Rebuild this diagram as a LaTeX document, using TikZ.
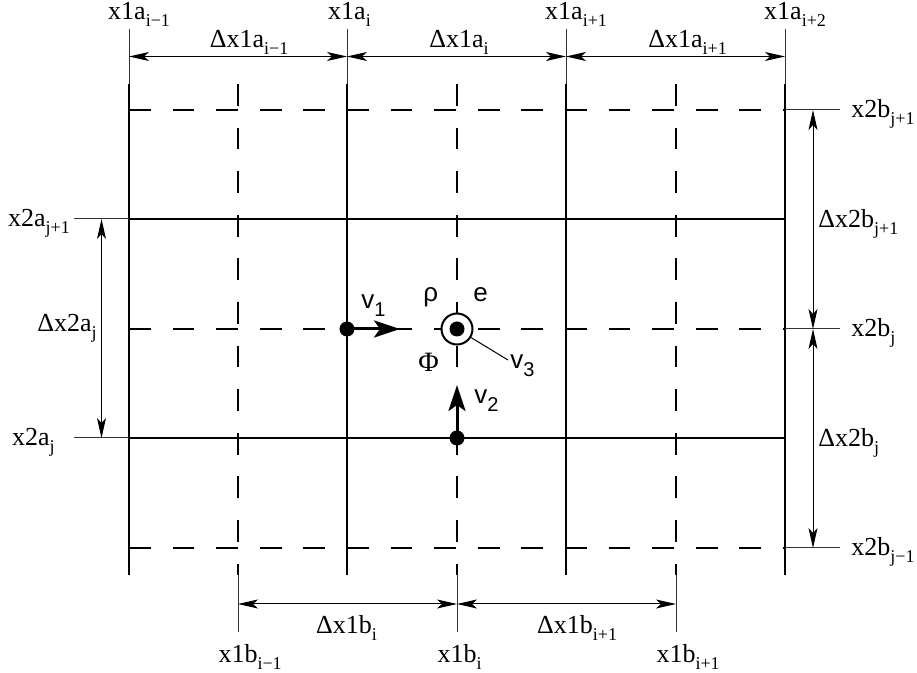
\documentclass[tikz,border=0pt]{standalone}
\usepackage{fontspec}
\setmainfont{Liberation Serif}
\newfontfamily\symfont{Liberation Sans}
\usetikzlibrary{arrows.meta,calc,positioning}

\newcommand{\ix}[1]{\raisebox{-3.2pt}{\fontsize{9}{10}\selectfont #1}}
\newcommand{\rix}[1]{\rlap{\ix{#1}}}
\newcommand{\vix}[1]{\raisebox{-3.6pt}{\fontsize{10}{11}\selectfont #1}}

\begin{document}
\begin{tikzpicture}[
  x=0.5pt, y=-0.5pt,
  font=\fontsize{13}{15}\selectfont,
  gridline/.style={line width=1pt, black},
  halfline/.style={gridline, dash pattern=on 10.9pt off 10.9pt},
  extline/.style={line width=0.5pt, black!80},
  dim/.style={{Stealth[length=10pt,width=4.5pt,inset=2.5pt]}-{Stealth[length=10pt,width=4.5pt,inset=2.5pt]}, line width=0.5pt},
  vec/.style={-{Stealth[length=13pt,width=8.5pt,inset=3pt]}, line width=1.5pt},
  lbl/.style={inner sep=0pt, anchor=base},
  sym/.style={inner sep=0pt, anchor=base west, font=\fontsize{13}{15}\symfont},
  dot/.style={circle, fill=black, inner sep=0pt, minimum size=7.5pt}
]
\useasboundingbox (0,0) rectangle (917,673);

% cell faces (solid) and cell centres (dashed)
\draw[gridline] (129,84) -- (129,575) (347,84) -- (347,575) (566,84) -- (566,575) (785,84) -- (785,575);
\draw[gridline] (129,219) -- (785,219) (129,438) -- (785,438);
\draw[halfline] (129,110) -- (785,110);
\draw[halfline] (129,329) -- (785,329);
\draw[halfline] (129,548) -- (785,548);
\draw[halfline] (238,84) -- (238,575);
\draw[halfline] (457,84) -- (457,575);
\draw[halfline] (676,84) -- (676,575);

% extension lines
\draw[extline] (129,29) -- (129,84) (347,29) -- (347,84) (566,29) -- (566,84) (785,29) -- (785,84);
\draw[extline] (238,575) -- (238,632) (457,575) -- (457,632) (676,575) -- (676,632);
\draw[extline] (74,219) -- (129,219) (74,438) -- (129,438);
\draw[extline] (785,110) -- (840,110) (785,329) -- (840,329) (785,548) -- (840,548);

% dimension ends
\coordinate (ta0) at (129,56.5);
\coordinate (ta1) at (347,56.5);
\coordinate (ta2) at (566,56.5);
\coordinate (ta3) at (785,56.5);
\coordinate (bb0) at (238,604);
\coordinate (bb1) at (457,604);
\coordinate (bb2) at (676,604);
\coordinate (la0) at (101.5,219);
\coordinate (la1) at (101.5,438);
\coordinate (rb0) at (813,110);
\coordinate (rb1) at (813,329);
\coordinate (rb2) at (813,548);

\draw[dim] (ta0) -- (ta1);
\draw[dim] (ta1) -- (ta2);
\draw[dim] (ta2) -- (ta3);
\draw[dim] (bb0) -- (bb1);
\draw[dim] (bb1) -- (bb2);
\draw[dim] (la0) -- (la1);
\draw[dim] (rb0) -- (rb1);
\draw[dim] (rb1) -- (rb2);

% top labels
\node[lbl] (xa0) at (127,20) {x1a\rix{i−1}};
\node[lbl] (xa1) at (347,20) {x1a\rix{i}};
\node[lbl] (xa2) at (564,20) {x1a\rix{i+1}};
\node[lbl] (xa3) at (783,20) {x1a\rix{i+2}};
\node[lbl] (dxa0) at (237,48) {Δx1a\rix{i−1}};
\node[lbl] (dxa1) at (456.5,48) {Δx1a\rix{i}};
\node[lbl] (dxa2) at (675.5,48) {Δx1a\rix{i+1}};

% bottom labels
\node[lbl] (dxb0) at (344,634) {Δx1b\rix{i}};
\node[lbl] (dxb1) at (565,634) {Δx1b\rix{i+1}};
\node[lbl] (xb0) at (238,663) {x1b\rix{i−1}};
\node[lbl] (xb1) at (457,663) {x1b\rix{i}};
\node[lbl] (xb2) at (676,663) {x1b\rix{i+1}};

% left labels
\node[lbl, anchor=base east] (ya0) at (46,227) {x2a\rix{j+1}};
\node[lbl, anchor=base east] (ya1) at (50,446) {x2a\rix{j}};
\node[lbl, anchor=base east] (dya) at (97,332) {Δx2a\ix{j}};

% right labels
\node[lbl, anchor=base west] (yb0) at (851,118) {x2b\ix{j+1}};
\node[lbl, anchor=base west] (yb1) at (851,337) {x2b\ix{j}};
\node[lbl, anchor=base west] (yb2) at (851,556) {x2b\ix{j−1}};
\node[lbl, anchor=base west] (dyb0) at (818,228) {Δx2b\ix{j+1}};
\node[lbl, anchor=base west] (dyb1) at (818,447) {Δx2b\ix{j}};

% staggered variables
\coordinate (v1tip) at (400,329);
\coordinate (v2tip) at (457,385);
\coordinate (v3end) at (508,360);
\node[dot] (p1) at (347,329) {};
\node[dot] (p2) at (457,438) {};
\draw[vec] (p1.center) -- (v1tip);
\draw[vec] (p2.center) -- (v2tip);
\node[circle, draw, fill=white, line width=1pt, minimum size=15.5pt, inner sep=0pt] (cell) at (457,329) {};
\node[dot] (pc) at (457,329) {};
\draw[line width=0.5pt] (cell) -- (v3end);

\node[sym] (v1) at (361,309) {v\vix{1}};
\node[sym] (v2) at (474,404) {v\vix{2}};
\node[sym] (v3) at (510,369) {v\vix{3}};
\node[sym] (rho) at (423,302) {ρ};
\node[sym] (en) at (473,302) {e};
\node[lbl, anchor=base west, font=\fontsize{14}{16}\selectfont] (phi) at (418,372) {Φ};

\end{tikzpicture}
\end{document}
